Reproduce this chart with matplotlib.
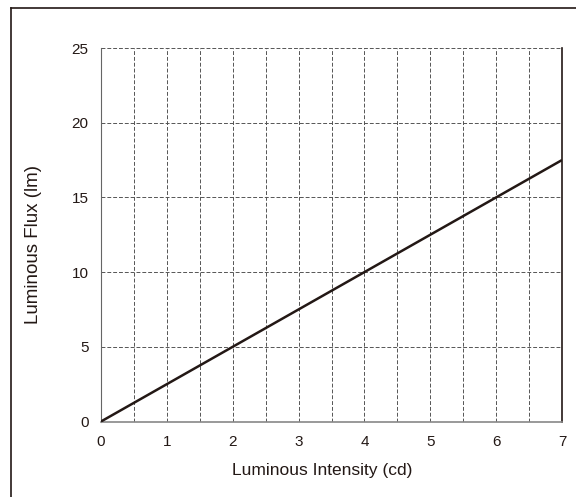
import matplotlib
matplotlib.use("Agg")
import matplotlib.pyplot as plt
from matplotlib.lines import Line2D

plt.rcParams['font.family'] = ['Liberation Sans', 'DejaVu Sans']

# data: luminous flux vs luminous intensity
intensity = [0, 7]
flux = [0, 17.5]
x_ticks = [0, 1, 2, 3, 4, 5, 6, 7]
y_ticks = [0, 5, 10, 15, 20, 25]

fig = plt.figure(figsize=(5.76, 4.97), dpi=100)
ax = fig.add_axes([101 / 576, 1 - 421.5 / 497, 461 / 576, 373.5 / 497])

# outer frame (top and left edge visible)
fig.add_artist(Line2D([11 / 576, 11 / 576], [0, 1 - 8 / 497], transform=fig.transFigure,
                      color='#231815', lw=1.2))
fig.add_artist(Line2D([11 / 576, 1], [1 - 8 / 497, 1 - 8 / 497], transform=fig.transFigure,
                      color='#231815', lw=1.2))

ax.plot(intensity, flux, color='#231815', lw=1.8, solid_capstyle='butt', zorder=3)

ax.set_xlim(0, 7)
ax.set_ylim(0, 25)
ax.set_xticks(x_ticks)
ax.set_yticks(y_ticks)
ax.set_xticks([i + 0.5 for i in range(7)], minor=True)
ax.grid(True, which='both', axis='x', color='#555555', ls=(0, (4, 2)), lw=0.7)
ax.grid(True, which='major', axis='y', color='#555555', ls=(0, (4, 2)), lw=0.7)
ax.tick_params(which='both', length=0)
ax.tick_params(axis='x', pad=10, labelsize=11, colors='#231815')
ax.tick_params(axis='y', pad=9, labelsize=11, colors='#231815')

ax.spines['top'].set_visible(False)
ax.spines['left'].set_color('#666666')
ax.spines['bottom'].set_color('#888888')
ax.spines['bottom'].set_linewidth(1.2)
ax.spines['right'].set_color('#231815')
ax.spines['right'].set_linewidth(1.2)

ax.set_xlabel('Luminous Intensity (cd)', fontsize=12.5, color='#231815', va='center')
ax.set_ylabel('Luminous Flux (lm)', fontsize=13.5, color='#231815', va='center')
ax.xaxis.set_label_coords(0.48, -0.13)
ax.yaxis.set_label_coords(-0.147, 0.473)

fig.savefig('out.png', dpi=100, facecolor='white')
